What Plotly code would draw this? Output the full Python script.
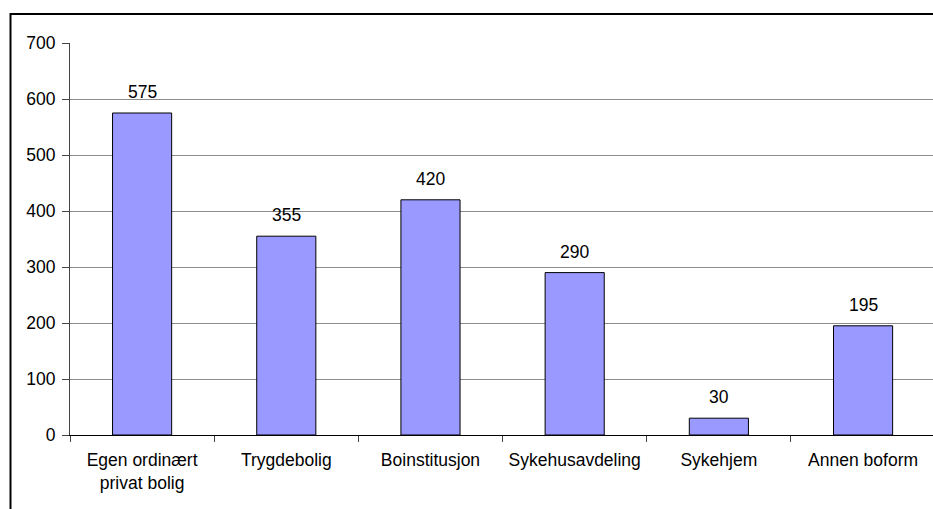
import plotly.graph_objects as go

categories = ["Egen ordinært<br>privat bolig", "Trygdebolig", "Boinstitusjon",
              "Sykehusavdeling", "Sykehjem", "Annen boform"]
values = [575, 355, 420, 290, 30, 195]
y_ticks = [0, 100, 200, 300, 400, 500, 600, 700]

FONT = "Liberation Sans, Arial, sans-serif"
FS = 17.5

W, H = 933, 509
L, T, B = 70, 43, 74
plot_w = W - L
plot_h = H - T - B

fig = go.Figure(go.Bar(
    x=categories,
    y=values,
    marker=dict(color="#9999FF", line=dict(color="black", width=1)),
    width=0.41,
))

# value labels above each bar
for c, v in zip(categories, values):
    fig.add_annotation(
        x=c, y=v, text=str(v), showarrow=False,
        xref="x", yref="y", yanchor="bottom", yshift=9,
        font=dict(family=FONT, size=FS, color="black"),
    )

def px_x(p):
    return (p - L) / plot_w

def px_y(p):
    return (T + plot_h - p) / plot_h

fig.update_layout(
    width=W, height=H,
    margin=dict(l=L, r=0, t=T, b=B, pad=0),
    paper_bgcolor="white",
    plot_bgcolor="white",
    showlegend=False,
    font=dict(family=FONT, size=FS, color="black"),
    xaxis=dict(
        type="category",
        range=[-0.5, 5.485],
        showgrid=False,
        ticks="outside",
        tickson="boundaries",
        ticklen=6,
        tickcolor="#444444",
        showline=True,
        linecolor="black",
        linewidth=1,
        ticklabelstandoff=9,
        tickfont=dict(family=FONT, size=FS, color="black"),
    ),
    yaxis=dict(
        range=[0, 700],
        tickvals=y_ticks,
        showgrid=True,
        gridcolor="#8c8c8c",
        gridwidth=1,
        ticks="outside",
        ticklen=7,
        tickcolor="#444444",
        showline=True,
        linecolor="#444444",
        linewidth=1,
        zeroline=False,
        ticklabelstandoff=3,
        tickfont=dict(family=FONT, size=FS, color="black"),
    ),
    shapes=[dict(
        type="rect", xref="paper", yref="paper",
        x0=px_x(10.5), x1=1.2, y0=-0.5, y1=px_y(14),
        line=dict(color="black", width=2),
        fillcolor="rgba(0,0,0,0)",
        layer="above",
    )],
)

fig.write_html("out.html")
